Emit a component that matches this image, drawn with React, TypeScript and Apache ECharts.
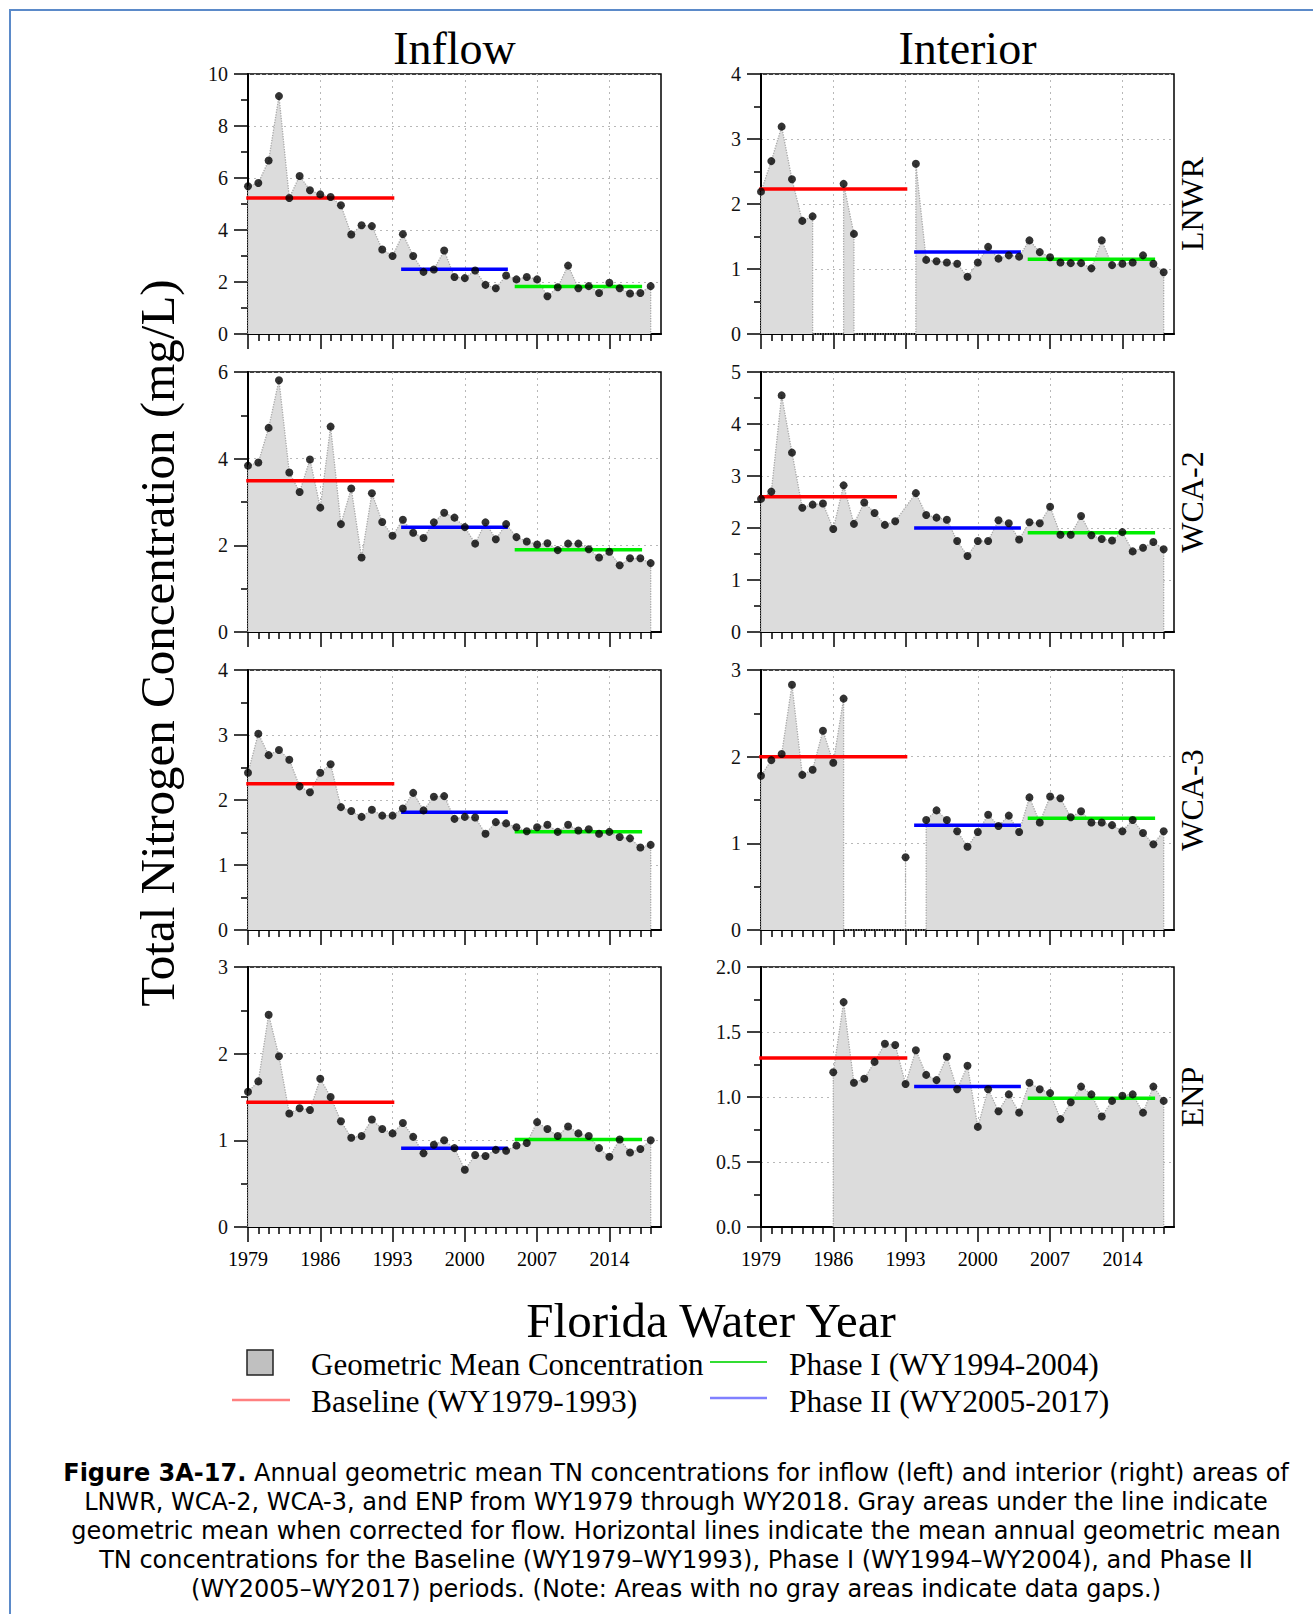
import React, { useEffect, useRef } from "react";
import * as echarts from "echarts";

// ---------------- data ----------------
const YEARS = [
  1979, 1980, 1981, 1982, 1983, 1984, 1985, 1986, 1987, 1988,
  1989, 1990, 1991, 1992, 1993, 1994, 1995, 1996, 1997, 1998,
  1999, 2000, 2001, 2002, 2003, 2004, 2005, 2006, 2007, 2008,
  2009, 2010, 2011, 2012, 2013, 2014, 2015, 2016, 2017, 2018,
];
const AXIS_START_YEAR = 1979;
const AXIS_END_YEAR = 2019;
const X_TICK_YEARS = [1979, 1986, 1993, 2000, 2007, 2014];

const inflowLNWR = [
  5.68, 5.81, 6.67, 9.15, 5.23, 6.08, 5.53, 5.37, 5.27, 4.95,
  3.83, 4.18, 4.15, 3.25, 3.0, 3.84, 3.0, 2.39, 2.48, 3.21,
  2.19, 2.15, 2.44, 1.89, 1.76, 2.25, 2.1, 2.19, 2.1, 1.45,
  1.8, 2.63, 1.76, 1.84, 1.58, 1.97, 1.76, 1.56, 1.58, 1.84,
];
const interiorLNWR = [
  2.19, 2.66, 3.19, 2.38, 1.74, 1.81, null, null, 2.31, 1.54,
  null, null, null, null, null, 2.62, 1.14, 1.12, 1.1, 1.08,
  0.88, 1.1, 1.34, 1.16, 1.21, 1.19, 1.44, 1.26, 1.18, 1.1,
  1.09, 1.09, 1.01, 1.44, 1.06, 1.08, 1.1, 1.21, 1.08, 0.95,
];
const inflowWCA2 = [
  3.84, 3.91, 4.71, 5.81, 3.68, 3.23, 3.98, 2.87, 4.74, 2.49,
  3.31, 1.72, 3.2, 2.54, 2.22, 2.59, 2.29, 2.17, 2.53, 2.75,
  2.64, 2.42, 2.04, 2.53, 2.14, 2.49, 2.19, 2.09, 2.02, 2.05,
  1.89, 2.04, 2.04, 1.91, 1.72, 1.85, 1.54, 1.7, 1.7, 1.59,
];
const interiorWCA2 = [
  2.56, 2.7, 4.55, 3.45, 2.39, 2.45, 2.47, 1.98, 2.82, 2.08,
  2.49, 2.29, 2.06, 2.13, null, 2.67, 2.25, 2.2, 2.16, 1.75,
  1.46, 1.75, 1.75, 2.15, 2.09, 1.78, 2.11, 2.09, 2.41, 1.87,
  1.87, 2.23, 1.86, 1.79, 1.76, 1.92, 1.55, 1.62, 1.73, 1.59,
];
const inflowWCA3 = [
  2.42, 3.02, 2.69, 2.77, 2.62, 2.21, 2.12, 2.42, 2.55, 1.89,
  1.83, 1.74, 1.85, 1.76, 1.76, 1.87, 2.11, 1.84, 2.05, 2.06,
  1.71, 1.74, 1.73, 1.48, 1.66, 1.64, 1.58, 1.52, 1.58, 1.62,
  1.51, 1.62, 1.53, 1.55, 1.48, 1.51, 1.43, 1.41, 1.27, 1.31,
];
const interiorWCA3 = [
  1.78, 1.96, 2.03, 2.83, 1.79, 1.85, 2.3, 1.93, 2.67, null,
  null, null, null, null, 0.84, null, 1.27, 1.38, 1.27, 1.14,
  0.96, 1.13, 1.33, 1.2, 1.32, 1.13, 1.53, 1.24, 1.54, 1.52,
  1.3, 1.37, 1.24, 1.24, 1.21, 1.14, 1.27, 1.12, 0.99, 1.14,
];
const inflowENP = [
  1.56, 1.68, 2.45, 1.97, 1.31, 1.37, 1.35, 1.71, 1.5, 1.22,
  1.03, 1.05, 1.24, 1.13, 1.08, 1.2, 1.04, 0.85, 0.95, 1.0,
  0.91, 0.66, 0.83, 0.82, 0.89, 0.88, 0.94, 0.97, 1.21, 1.13,
  1.05, 1.16, 1.08, 1.05, 0.91, 0.81, 1.01, 0.86, 0.9, 1.0,
];
const interiorENP = [
  null, null, null, null, null, null, null, 1.19, 1.73, 1.11,
  1.14, 1.27, 1.41, 1.4, 1.1, 1.36, 1.17, 1.13, 1.31, 1.06,
  1.24, 0.77, 1.06, 0.89, 1.02, 0.88, 1.11, 1.06, 1.03, 0.83,
  0.96, 1.08, 1.02, 0.85, 0.97, 1.01, 1.02, 0.88, 1.08, 0.97,
];

// panel order: row by row, inflow then interior
const panelValues = [inflowLNWR, interiorLNWR, inflowWCA2, interiorWCA2, inflowWCA3, interiorWCA3, inflowENP, interiorENP];
// years missing a point but bridged by the gray area (no data gap drawn)
const bridgedYears = [[], [], [], [1993], [], [], [], []];
const yMaxes = [10, 4, 6, 5, 4, 3, 3, 2];
const yIntervals = [2, 1, 2, 1, 1, 1, 1, 0.5];
const yDecimals = [0, 0, 0, 0, 0, 0, 0, 1];

const baselineMeans = [5.23, 2.23, 3.49, 2.6, 2.25, 2.0, 1.44, 1.3];
const baselineEnds = [1993, 1993, 1993, 1992, 1993, 1993, 1993, 1993];
const blueMeans = [2.49, 1.26, 2.42, 2.0, 1.81, 1.21, 0.91, 1.08];
const greenMeans = [1.83, 1.15, 1.9, 1.91, 1.51, 1.29, 1.01, 0.99];
const BASELINE_START = 1979;
const BLUE_PERIOD = [1994, 2004];
const GREEN_PERIOD = [2005, 2017];

const columnTitles = ["Inflow", "Interior"];
const rowTitles = ["LNWR", "WCA-2", "WCA-3", "ENP"];

const legendItems = [
  "Geometric Mean Concentration",
  "Phase I (WY1994-2004)",
  "Baseline (WY1979-1993)",
  "Phase II (WY2005-2017)",
];

const captionLines = [
  "{b|Figure 3A-17.} Annual geometric mean TN concentrations for inflow (left) and interior (right) areas of",
  "LNWR, WCA-2, WCA-3, and ENP from WY1979 through WY2018. Gray areas under the line indicate",
  "geometric mean when corrected for flow. Horizontal lines indicate the mean annual geometric mean",
  "TN concentrations for the Baseline (WY1979\u2013WY1993), Phase I (WY1994\u2013WY2004), and Phase II",
  "(WY2005\u2013WY2017) periods. (Note: Areas with no gray areas indicate data gaps.)",
];

// ---------------- layout ----------------
const SERIF = "'Liberation Serif', 'Times New Roman', serif";
const SANS = "'DejaVu Sans', Verdana, sans-serif";
const COL_LEFT = [248, 761];
const ROW_TOP = [74, 372, 670, 967];
const PLOT_W = 413;
const PLOT_H = 260;
const CAPTION_SIZE = 24;

const toX = (year: number) => year - AXIS_START_YEAR;

function buildArea(values: (number | null)[], bridged: number[]) {
  const pts: number[][] = [];
  let open = false;
  let lastX = 0;
  YEARS.forEach((yr, i) => {
    const v = values[i];
    const x = toX(yr);
    if (v == null) {
      if (bridged.includes(yr)) return;
      if (open) {
        pts.push([lastX, 0]);
        open = false;
      }
      return;
    }
    if (!open) {
      pts.push([x, 0]);
      open = true;
    }
    pts.push([x, v]);
    lastX = x;
  });
  if (open) pts.push([lastX, 0]);
  return pts;
}

function buildOption() {
  const grid: any[] = [];
  const xAxis: any[] = [];
  const yAxis: any[] = [];
  const series: any[] = [];

  panelValues.forEach((values, i) => {
    const row = Math.floor(i / 2);
    const col = i % 2;
    const isBottom = row === 3;
    grid.push({
      left: COL_LEFT[col],
      top: ROW_TOP[row],
      width: PLOT_W,
      height: PLOT_H,
      show: true,
      borderColor: "#000",
      borderWidth: 1.5,
      backgroundColor: "transparent",
      outerBoundsMode: "none",
    });
    const tickOffsets = X_TICK_YEARS.map(toX);
    xAxis.push({
      type: "value",
      gridIndex: i,
      min: 0,
      max: toX(AXIS_END_YEAR),
      interval: 7,
      axisLine: { show: true, onZero: false, lineStyle: { color: "#000", width: 2 } },
      axisTick: {
        show: true,
        inside: false,
        length: 15,
        customValues: tickOffsets,
        lineStyle: { color: "#000", width: 1.5 },
      },
      minorTick: { show: true, splitNumber: 7, length: 7, lineStyle: { color: "#000", width: 1.5 } },
      axisLabel: {
        show: isBottom,
        customValues: tickOffsets,
        formatter: (v: number) => String(v + AXIS_START_YEAR),
        fontFamily: SERIF,
        fontSize: 20,
        color: "#000",
        margin: 22,
      },
      splitLine: { show: true, lineStyle: { color: "#b8b8b8", type: [2, 4], width: 1 } },
    });
    yAxis.push({
      type: "value",
      gridIndex: i,
      min: 0,
      max: yMaxes[i],
      interval: yIntervals[i],
      axisLine: { show: true, onZero: false, lineStyle: { color: "#000", width: 2 } },
      axisTick: { show: true, inside: false, length: 14, lineStyle: { color: "#000", width: 1.5 } },
      minorTick: { show: true, splitNumber: 2, length: 7, lineStyle: { color: "#000", width: 1.5 } },
      axisLabel: {
        formatter: (v: number) => v.toFixed(yDecimals[i]),
        fontFamily: SERIF,
        fontSize: 20,
        color: "#111",
        margin: 20,
      },
      splitLine: { show: true, lineStyle: { color: "#b8b8b8", type: [2, 4], width: 1 } },
    });

    // gray geometric mean area
    series.push({
      type: "line",
      xAxisIndex: i,
      yAxisIndex: i,
      data: buildArea(values, bridgedYears[i]),
      showSymbol: false,
      symbol: "none",
      silent: true,
      z: 1,
      lineStyle: { color: "#a9a9a9", type: "dotted", width: 1.3 },
      areaStyle: { color: "#dcdcdc", opacity: 1 },
    });
    // period means
    const periodLines = [
      { color: "#ff0000", from: BASELINE_START, to: baselineEnds[i], v: baselineMeans[i] },
      { color: "#0000ff", from: BLUE_PERIOD[0], to: BLUE_PERIOD[1], v: blueMeans[i] },
      { color: "#00ee00", from: GREEN_PERIOD[0], to: GREEN_PERIOD[1], v: greenMeans[i] },
    ];
    periodLines.forEach((p) => {
      series.push({
        type: "line",
        xAxisIndex: i,
        yAxisIndex: i,
        data: [
          [toX(p.from), p.v],
          [toX(p.to), p.v],
        ],
        symbol: "none",
        silent: true,
        z: 3,
        lineStyle: { color: p.color, width: 3.5, cap: "square" },
      });
    });
    // dots
    const pts: number[][] = [];
    YEARS.forEach((yr, k) => {
      const v = values[k];
      if (v != null) pts.push([toX(yr), v]);
    });
    series.push({
      type: "scatter",
      xAxisIndex: i,
      yAxisIndex: i,
      data: pts,
      symbol: "circle",
      symbolSize: 8,
      itemStyle: { color: "#000" },
      silent: true,
      clip: false,
      z: 5,
    });
  });

  const txt = (x: number, y: number, text: string, size: number, opts: any = {}) => ({
    type: "text",
    x,
    y,
    rotation: opts.rotation || 0,
    silent: true,
    style: {
      x: 0,
      y: 0,
      text,
      fontSize: size,
      fontFamily: opts.family || SERIF,
      fontWeight: "normal",
      fill: "#000",
      textAlign: opts.align || "center",
      align: opts.align || "center",
      textVerticalAlign: "middle",
      verticalAlign: "middle",
      rich: opts.rich,
    },
  });

  const graphic: any[] = [];
  // outer border
  graphic.push({
    type: "rect",
    silent: true,
    shape: { x: 10, y: 10, width: 1340, height: 1640 },
    style: { fill: "none", stroke: "#5b8ac9", lineWidth: 2 },
  });
  columnTitles.forEach((t, c) => graphic.push(txt(COL_LEFT[c] + PLOT_W / 2, 48, t, 46)));
  rowTitles.forEach((t, r) =>
    graphic.push(txt(1192, ROW_TOP[r] + PLOT_H / 2, t, 32, { rotation: Math.PI / 2 }))
  );
  graphic.push(txt(157, 643, "Total Nitrogen Concentration (mg/L)", 49, { rotation: Math.PI / 2 }));
  graphic.push(txt(711, 1320, "Florida Water Year", 49));

  // legend
  graphic.push({
    type: "rect",
    silent: true,
    shape: { x: 247, y: 1350, width: 26, height: 25 },
    style: { fill: "#c0c0c0", stroke: "#222", lineWidth: 1.5 },
  });
  graphic.push(txt(311, 1364, legendItems[0], 31, { align: "left" }));
  graphic.push({
    type: "line",
    silent: true,
    shape: { x1: 710, y1: 1362, x2: 767, y2: 1362 },
    style: { stroke: "#33dd33", lineWidth: 2 },
  });
  graphic.push(txt(789, 1364, legendItems[1], 31.5, { align: "left" }));
  graphic.push({
    type: "line",
    silent: true,
    shape: { x1: 232, y1: 1400, x2: 290, y2: 1400 },
    style: { stroke: "#ff8080", lineWidth: 2.5 },
  });
  graphic.push(txt(311, 1401, legendItems[2], 31.5, { align: "left" }));
  graphic.push({
    type: "line",
    silent: true,
    shape: { x1: 710, y1: 1398, x2: 767, y2: 1398 },
    style: { stroke: "#8080ff", lineWidth: 2.5 },
  });
  graphic.push(txt(789, 1401, legendItems[3], 31.5, { align: "left" }));

  // caption
  captionLines.forEach((line, k) => {
    graphic.push(
      txt(676, 1473 + k * 29, line, CAPTION_SIZE, {
        family: SANS,
        rich: { b: { fontWeight: "bold", fontSize: CAPTION_SIZE, fontFamily: SANS, fill: "#000" } },
      })
    );
  });

  return {
    animation: false,
    backgroundColor: "#fff",
    grid,
    xAxis,
    yAxis,
    series,
    graphic: { elements: graphic },
  };
}

export default function App() {
  const ref = useRef<HTMLDivElement>(null);
  useEffect(() => {
    if (!ref.current) return;
    const chart = echarts.init(ref.current, undefined, { renderer: "svg" });
    chart.setOption(buildOption() as any);
    return () => chart.dispose();
  }, []);
  return (
    <div
      ref={ref}
      style={{ position: "absolute", left: 0, top: 0, width: 1313, height: 1614, background: "#fff" }}
    />
  );
}
